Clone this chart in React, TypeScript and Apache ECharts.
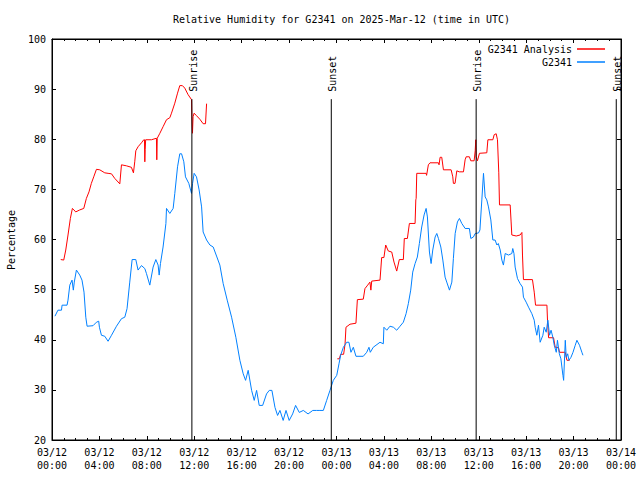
import React, { useEffect, useRef } from 'react';
import * as echarts from 'echarts';

const FONT = '"DejaVu Sans Mono", monospace';
const TITLE = 'Relative Humidity for G2341 on 2025-Mar-12 (time in UTC)';
const Y_NAME = 'Percentage';
const SERIES_NAMES = ['G2341 Analysis', 'G2341'];

// hours since 03/12 00:00 UTC
const obsTimes = [
  0.25, 0.5, 0.8, 0.85, 1.27, 1.35, 1.5, 1.69, 1.8, 1.88, 2.06, 2.34, 2.53, 2.7, 2.85, 2.96,
  3.46, 3.75, 3.94, 4.0, 4.17, 4.45, 4.73, 5.02, 5.44, 5.86, 6.14, 6.33, 6.56, 6.76, 7.07, 7.26,
  7.55, 7.83, 7.97, 8.25, 8.53, 8.76, 8.95, 9.04, 9.15, 9.37, 9.61, 9.66, 9.94, 10.22, 10.36, 10.59,
  10.78, 10.93, 11.12, 11.26, 11.54, 11.77, 11.86, 11.99, 12.19, 12.41, 12.62, 12.75, 13.04, 13.32,
  13.6, 13.88, 14.16, 14.44, 14.78, 15.15, 15.51, 15.85, 16.13, 16.33, 16.55, 16.84, 17.06, 17.26,
  17.48, 17.77, 18.1, 18.33, 18.55, 18.81, 19.03, 19.23, 19.5, 19.74, 20.01, 20.3, 20.55, 20.86,
  21.2, 21.6, 22.0, 22.3, 22.6, 22.89, 23.17, 23.45, 23.73, 24.02, 24.21, 24.35, 24.58, 24.86,
  25.05, 25.22, 25.42, 25.64, 26.26, 26.55, 26.74, 26.85, 27.1, 27.67, 27.95, 28.0, 28.24, 28.51,
  28.8, 29.08, 29.36, 29.64, 29.87, 30.06, 30.26, 30.43, 30.63, 30.82, 30.99, 31.19, 31.39, 31.56,
  31.67, 31.84, 31.98, 32.12, 32.32, 32.46, 32.6, 32.8, 32.97, 33.16, 33.3, 33.53, 33.73, 33.86,
  34.01, 34.2, 34.37, 34.57, 34.85, 35.21, 35.33, 35.55, 35.7, 35.98, 36.1, 36.26, 36.4, 36.54,
  36.68, 36.82, 37.02, 37.19, 37.38, 37.53, 37.65, 37.81, 37.95, 38.08, 38.23, 38.51, 38.79, 38.87,
  38.97, 39.07, 39.27, 39.49, 39.69, 39.77, 40.0, 40.2, 40.48, 40.68, 40.76, 40.9, 41.04, 41.18,
  41.41, 41.52, 41.69, 41.83, 41.97, 42.1, 42.25, 42.37, 42.54, 42.64, 42.8, 42.93, 43.1, 43.16,
  43.3, 43.38, 43.5, 43.61, 43.78, 43.95, 44.14, 44.28, 44.5, 44.7, 44.79,
];
const obsValues = [
  44.7, 45.9, 45.9, 46.9, 46.9, 47.9, 50.9, 51.9, 49.9, 51.5, 53.9, 52.9, 51.9, 49.5, 44.5, 42.7,
  42.8, 43.5, 43.7, 42.5, 40.9, 40.7, 39.7, 40.9, 42.7, 44.2, 44.5, 46.2, 51.5, 56, 56, 53.9,
  54.8, 54.2, 53.2, 50.9, 54.5, 56, 54.9, 52.9, 55.2, 58.5, 63.2, 66.2, 65.2, 66.2, 69.2, 74.5,
  77.1, 77.1, 75.5, 72.5, 71.2, 69.2, 71.2, 73.2, 72.5, 69.9, 66.5, 61.5, 59.9, 58.9,
  58.5, 56.7, 54.9, 51.2, 47.9, 44.5, 40.5, 35.9, 33.2, 31.9, 33.9, 29.9, 27.9, 29.9,
  26.9, 26.9, 29.2, 29.9, 29.9, 26.5, 24.9, 25.9, 23.9, 25.9, 23.9, 25.2, 26.9, 25.5,
  25.9, 25.2, 25.9, 25.9, 25.9, 25.9, 27.9, 29.9, 31.9, 32.9, 35.2, 36.9, 38.5, 39.5,
  39.5, 37.5, 38.5, 36.7, 36.7, 37.5, 38.5, 37.5, 38.5, 39.5, 39.2, 42.5, 41.9, 42.7,
  42.5, 41.9, 42.7, 43.5, 45.2, 47.2, 49.9, 53.5, 55.2, 56.5, 59.2, 62.5, 64.9, 66.2,
  64.5, 57.5, 55.2, 57.9, 60.5, 61.2, 60.2, 58.5, 55.9, 52.5, 51.5, 49.9, 51.5, 56.2,
  61.2, 63.5, 64.2, 63.2, 62.2, 62.2, 60.2, 60.5, 61.2, 61.3, 61.9, 67.9, 73.2, 68.5,
  67.9, 66.5, 63.9, 59.9, 59.9, 58.9, 59.2, 57.9, 55.9, 54.9, 57.2, 56.9, 57.2, 58.2,
  57.2, 54.5, 52.2, 51.2, 50.5, 48.5, 47.5, 46.5, 45.2, 43.9, 42.5, 40.9, 42.9, 39.5,
  40.9, 42.5, 41.5, 43.9, 40.9, 41.9, 40.5, 38.9, 37.5, 39.9, 37.2, 36.2, 32.9, 31.9,
  39.9, 36.5, 37.2, 35.9, 36.5, 37.5, 38.9, 39.9, 38.9, 37.5, 36.9,
];

const anaTimes = [
  0.74, 0.99, 1.16, 1.35, 1.55, 1.72, 1.85, 2.0, 2.34, 2.68, 2.9, 3.12, 3.32, 3.52, 3.75, 4.03,
  4.45, 4.73, 5.02, 5.29, 5.72, 5.86, 6.28, 6.7, 6.87, 6.98, 7.07, 7.26, 7.55, 7.74, 7.8, 7.83,
  7.86, 7.9, 8.39, 8.81, 8.84, 8.88, 9.1, 9.37, 9.66, 9.94, 10.08, 10.36, 10.59, 10.78, 11.0, 11.2,
  11.48, 11.77, 11.8, 11.85, 11.9, 11.99, 12.19, 12.47, 12.75, 12.95, 13.04,
  18.0,
  24.07, 24.24, 24.35, 24.6, 24.72, 24.8, 25.14, 25.64, 25.76, 26.26, 26.4, 26.63, 26.82, 26.9,
  26.97, 27.67, 27.81, 28.0, 28.15, 28.37, 28.66, 28.85, 29.08, 29.3, 29.64, 29.72, 29.98, 30.15,
  30.63, 30.69, 30.72, 30.77, 31.56, 31.6, 31.75, 31.89, 32.6, 32.65, 32.74, 32.88, 33.02, 33.67,
  33.81, 33.86, 34.0, 34.15, 34.35, 34.71, 34.85, 34.94, 35.21, 35.33, 35.61, 35.7, 35.75, 35.78,
  35.89, 36.06, 36.68, 36.77, 37.19, 37.3, 37.47, 37.58, 37.69, 37.75, 38.65, 38.73, 38.79, 39.16,
  39.49, 39.64, 39.69, 39.77, 40.53, 40.68, 40.79, 41.75, 41.8, 41.89, 42.31, 42.45, 42.73, 42.81,
  43.3, 43.44, 43.66,
];
const anaValues: (number | null)[] = [
  56, 55.9, 57.9, 60.9, 64.2, 66.2, 65.9, 65.5, 65.9, 66.2, 68.2, 69.5, 71.2, 72.5, 74, 73.9,
  73.3, 73.2, 73.1, 72.2, 71.1, 74.9, 74.7, 74.4, 73.3, 75.5, 77.7, 78.5, 79.3, 79.9, 79.9, 75.5,
  77.9, 79.9, 79.9, 80.2, 75.9, 80.2, 81.2, 82.5, 83.9, 84.3, 85.2, 87.2, 89.2, 90.7, 90.7, 90.2,
  88.9, 87.9, 84.5, 81.2, 84.5, 85.2, 84.7, 84, 83.1, 83.1, 87.1,
  null,
  36.2, 36.2, 37.1, 37.1, 39.1, 42.5, 43.1, 43.3, 48, 48.1, 50.2, 50.9, 51.5, 49.9,
  51.7, 51.9, 56.4, 56.4, 58.9, 57.7, 57.5, 55.5, 53.7, 56, 56, 60.2, 60.2, 63.2,
  63.2, 67.9, 68.2, 73.2, 73.2, 72.8, 74.9, 75.3, 75.3, 74.9, 76.4, 76.4, 73.9, 73.9,
  72.5, 71.2, 71.2, 73.7, 73.5, 73.5, 75.9, 76.5, 76.5, 75.7, 75.7, 77.7, 79.9, 76.5,
  75.7, 77.2, 77.3, 79.9, 79.9, 80.9, 81.1, 79.9, 73.3, 66.9, 66.9, 63.5, 60.9, 60.7,
  60.9, 61.4, 56.9, 52, 52, 49.5, 46.9, 46.9, 43.9, 40.4, 40.4, 38.5, 38.4, 37.5,
  37.5, 35.9, 35.9,
];

const sunTimes = [11.8, 23.56, 35.78, 47.6];
const sunLabels = ['Sunrise', 'Sunset', 'Sunrise', 'Sunset'];
const sunLineTop = 88;
const sunLabelAt = 89.46;

const X_MIN = 0;
const X_MAX = 48;
const X_STEP = 4;
const Y_MIN = 20;
const Y_MAX = 100;
const Y_STEP = 10;

function xLabel(h: number): string {
  const day = 12 + Math.floor(h / 24);
  const hh = h % 24;
  return `03/${String(day).padStart(2, '0')}\n${String(hh).padStart(2, '0')}:00`;
}

export default function App() {
  const ref = useRef<HTMLDivElement>(null);
  useEffect(() => {
    if (!ref.current) return;
    const chart = echarts.init(ref.current, null, { renderer: 'svg' });
    const black = '#000000';
    const baseX = {
      type: 'value',
      min: X_MIN,
      max: X_MAX,
      interval: X_STEP,
      axisLine: { show: true, onZero: false, lineStyle: { color: black, width: 1 } },
      axisTick: { show: true, inside: true, length: 4, lineStyle: { color: black, width: 1 } },
      minorTick: { show: true, splitNumber: 4, length: 2, lineStyle: { color: black, width: 1 } },
      splitLine: { show: false },
      minorSplitLine: { show: false },
    };
    const baseY = {
      type: 'value',
      min: Y_MIN,
      max: Y_MAX,
      interval: Y_STEP,
      axisLine: { show: true, onZero: false, lineStyle: { color: black, width: 1 } },
      axisTick: { show: true, inside: true, length: 4, lineStyle: { color: black, width: 1 } },
      splitLine: { show: false },
    };
    const textStyle = { fontFamily: FONT, fontSize: 10, color: black };
    const option: any = {
      animation: false,
      backgroundColor: '#ffffff',
      title: {
        text: TITLE,
        left: 336.5,
        top: 8,
        textAlign: 'center',
        textStyle: { ...textStyle, fontWeight: 'normal', lineHeight: 12 },
      },
      grid: { left: 52, right: 19, top: 39, bottom: 40, show: true, borderColor: black, borderWidth: 1, backgroundColor: 'transparent' },
      legend: {
        data: SERIES_NAMES,
        right: 30,
        top: 38,
        orient: 'vertical',
        align: 'right',
        itemWidth: 28,
        itemHeight: 1.5,
        itemGap: 1,
        icon: 'rect',
        selectedMode: false,
        textStyle: { ...textStyle, lineHeight: 12 },
      },
      xAxis: [
        {
          ...baseX,
          position: 'bottom',
          axisLabel: { ...textStyle, lineHeight: 13, margin: 6, formatter: (v: number) => xLabel(v) },
        },
        { ...baseX, position: 'top', axisLabel: { show: false } },
      ],
      yAxis: [
        { ...baseY, position: 'left', axisLabel: { ...textStyle, margin: 6 } },
        { ...baseY, position: 'right', axisLabel: { show: false } },
      ],
      series: [
        {
          name: SERIES_NAMES[0],
          type: 'line',
          data: anaTimes.map((t, i) => [t, anaValues[i] === null ? '-' : anaValues[i]]),
          symbol: 'none',
          showSymbol: false,
          connectNulls: false,
          color: '#ff0000',
          lineStyle: { color: '#ff0000', width: 1 },
          z: 2,
        },
        {
          name: SERIES_NAMES[1],
          type: 'line',
          data: obsTimes.map((t, i) => [t, obsValues[i]]),
          symbol: 'none',
          showSymbol: false,
          color: '#0080ff',
          lineStyle: { color: '#0080ff', width: 1 },
          z: 3,
        },
        ...sunTimes.map((t, i) => ({
          name: sunLabels[i] + i,
          type: 'line',
          data: [[t, Y_MIN], [t, sunLineTop]],
          symbol: 'none',
          showSymbol: false,
          silent: true,
          color: black,
          lineStyle: { color: black, width: 1 },
          z: 4,
        })),
      ],
      graphic: [
        {
          type: 'text',
          x: 11,
          y: 240,
          rotation: Math.PI / 2,
          style: { text: Y_NAME, fontFamily: FONT, fontSize: 10, fill: black, textAlign: 'center', textVerticalAlign: 'middle', align: 'center', verticalAlign: 'middle' },
        },
      ],
    };
    chart.setOption(option);
    const sunGraphics = sunTimes.map((t, i) => {
      const p = chart.convertToPixel({ gridIndex: 0 }, [t, sunLabelAt]) as number[];
      return {
        type: 'text',
        x: p[0] + 1.5,
        y: p[1],
        rotation: Math.PI / 2,
        style: { text: sunLabels[i], fontFamily: FONT, fontSize: 10, fill: black, textAlign: 'left', textVerticalAlign: 'middle', align: 'left', verticalAlign: 'middle' },
      };
    });
    chart.setOption({ graphic: [option.graphic[0], ...sunGraphics] });
    return () => chart.dispose();
  }, []);
  return <div ref={ref} style={{ position: 'fixed', left: 0, top: 0, width: 640, height: 480 }} />;
}
